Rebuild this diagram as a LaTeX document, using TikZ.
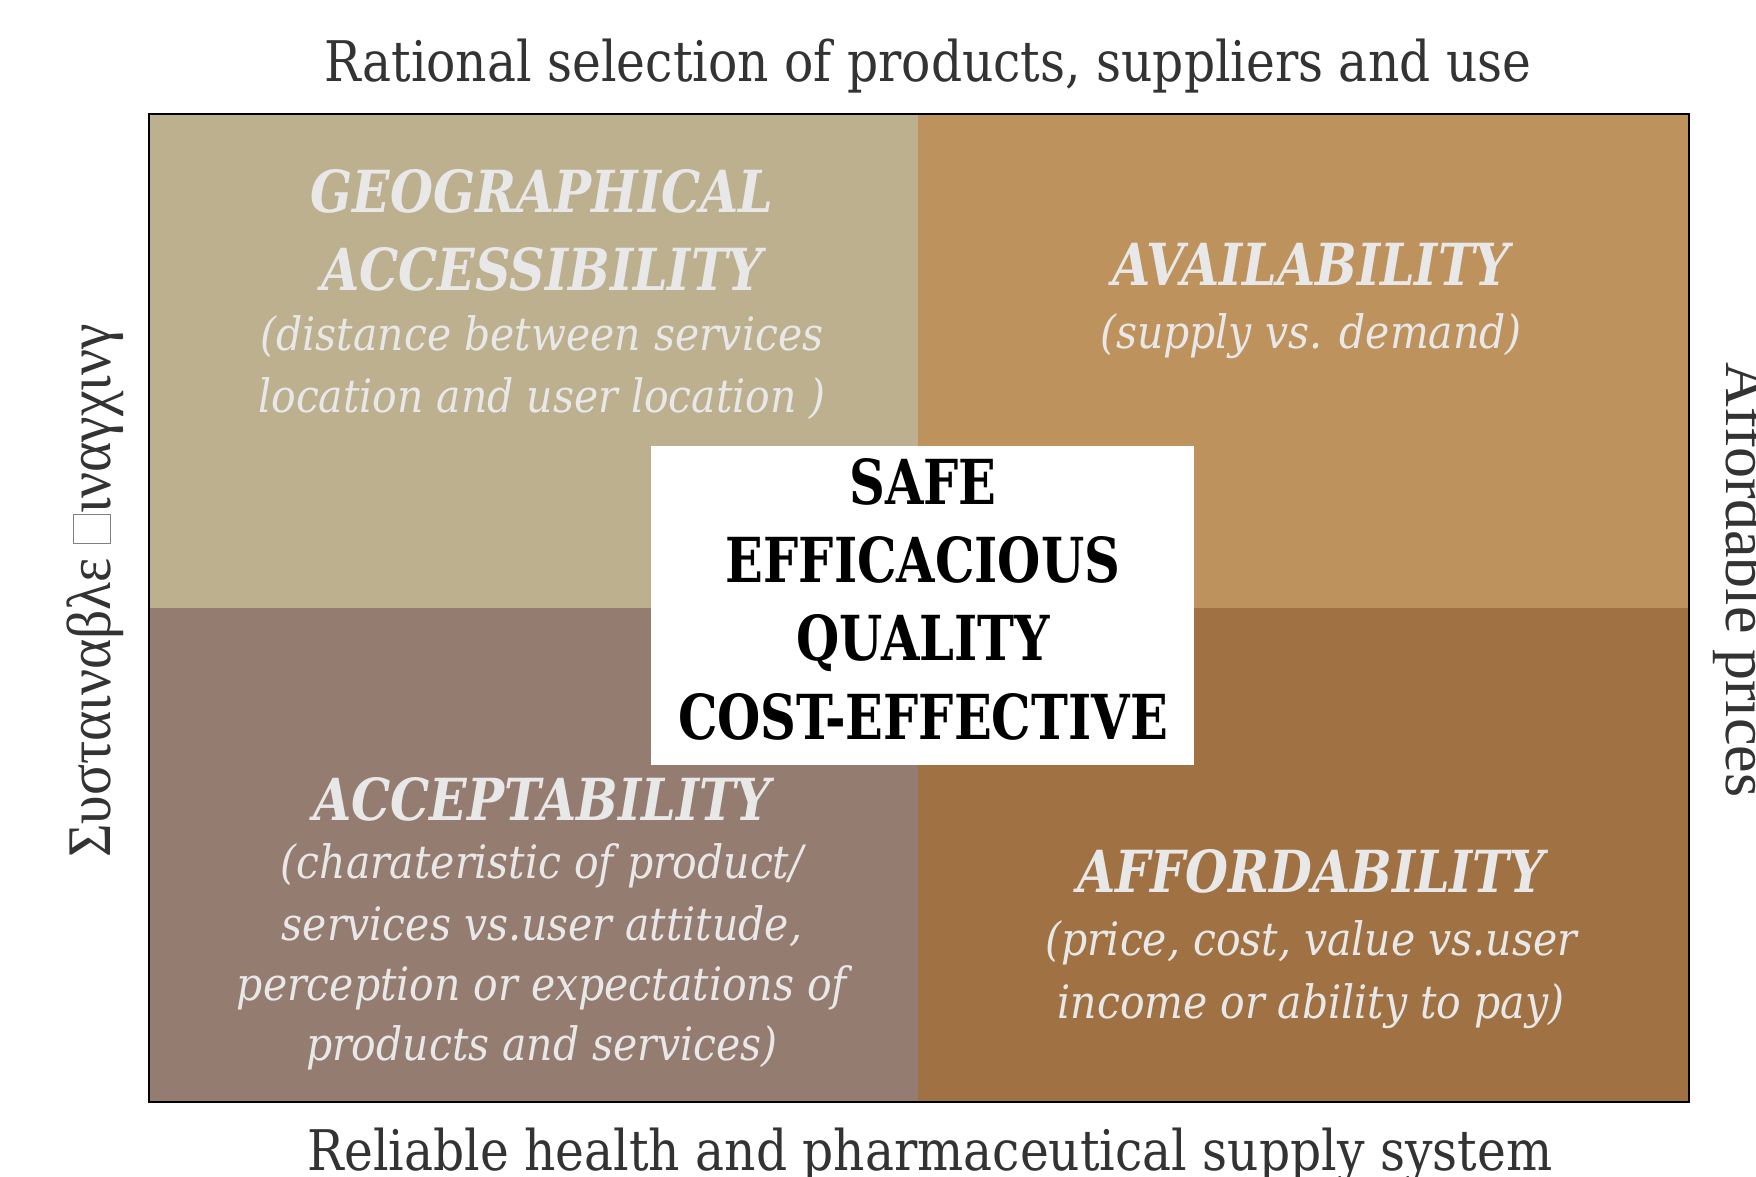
\documentclass[tikz,border=0pt]{standalone}
\usepackage{fontspec}
\setmainfont{DejaVu Serif}
\newfontfamily\labfam[FakeStretch=0.87]{DejaVu Serif}
\newfontfamily\headfam[FakeStretch=0.85]{DejaVu Serif}
\newfontfamily\subfam[FakeStretch=0.89]{DejaVu Serif}
\newfontfamily\ctrfam[FakeStretch=0.80]{DejaVu Serif}
\newfontfamily\timesfam{Liberation Serif}
\definecolor{tlc}{HTML}{BDB08F}
\definecolor{trc}{HTML}{BE925D}
\definecolor{blc}{HTML}{947C70}
\definecolor{brc}{HTML}{A07243}
\definecolor{txtgray}{HTML}{E8E8E8}
\definecolor{labgray}{HTML}{333333}
\tikzset{
  head/.style={font=\headfam\bfseries\itshape\fontsize{29}{34}\selectfont, text=txtgray, anchor=base, inner sep=0pt},
  sub/.style={font=\subfam\itshape\fontsize{23}{28}\selectfont, text=txtgray, anchor=base, inner sep=0pt},
  ctr/.style={font=\ctrfam\bfseries\fontsize{31}{36}\selectfont, text=black, anchor=base, inner sep=0pt},
  lab/.style={font=\labfam\fontsize{28}{34}\selectfont, text=labgray, anchor=base, inner sep=0pt},
  side/.style={font=\timesfam\fontsize{31}{36}\selectfont, text=labgray, anchor=base, inner sep=0pt}
}
\begin{document}
\begin{tikzpicture}[x=0.5pt,y=-0.5pt]
\useasboundingbox (0,0) rectangle (1756,1177);
\fill[white] (0,0) rectangle (1756,1177);
% quadrants
\fill[tlc] (149,114) rectangle (918,608);
\fill[trc] (918,114) rectangle (1689,608);
\fill[blc] (149,608) rectangle (918,1102);
\fill[brc] (918,608) rectangle (1689,1102);
\draw[line width=0.8pt] (149,114) rectangle (1689,1102);
% centre box
\fill[white] (651,446) rectangle (1194,765);
% top-left
\node[head] (geo1) at (542,213) {GEOGRAPHICAL};
\node[head] (geo2) at (542,290) {ACCESSIBILITY};
\node[sub] (geo3) at (542,350) {(distance between services};
\node[sub] (geo4) at (542,412) {location and user location )};
% top-right
\node[head] (av1) at (1311,285) {AVAILABILITY};
\node[sub] (av2) at (1311,348) {(supply vs. demand)};
% bottom-left
\node[head] (ac1) at (542,820) {ACCEPTABILITY};
\node[sub] (ac2) at (542,878) {(charateristic of product/};
\node[sub] (ac3) at (542,940) {services vs.user attitude,};
\node[sub] (ac4) at (542,1000) {perception or expectations of};
\node[sub] (ac5) at (542,1060) {products and services)};
% bottom-right
\node[head] (af1) at (1311,892) {AFFORDABILITY};
\node[sub] (af2) at (1311,955) {(price, cost, value vs.user};
\node[sub] (af3) at (1311,1018) {income or ability to pay)};
% centre text
\node[ctr] (c1) at (923,504) {SAFE};
\node[ctr] (c2) at (923,582) {EFFICACIOUS};
\node[ctr] (c3) at (923,660) {QUALITY};
\node[ctr] (c4) at (923,739) {COST-EFFECTIVE};
% outer labels
\node[lab] (top) at (928,82) {Rational selection of products, suppliers and use};
\node[lab] (bot) at (930,1170) {Reliable health and pharmaceutical supply system};
\node[side, rotate=90] (left) at (110,591) {\scalebox{0.93}[1]{Συσταιναβλε {\color{gray}\fboxsep=0pt\fboxrule=0.5pt\fbox{\rule{0pt}{18pt}\hspace{15pt}}}ιναγχινγ}};
\node[side, rotate=-90] (right) at (1726,580) {Affordable prices};
\end{tikzpicture}
\end{document}
